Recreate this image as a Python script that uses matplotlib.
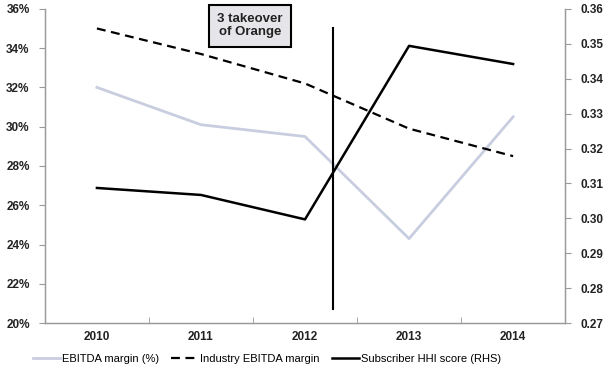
import matplotlib
matplotlib.use('Agg')
import matplotlib.pyplot as plt
from matplotlib.ticker import FuncFormatter

plt.rcParams['font.family'] = ['Liberation Sans', 'DejaVu Sans']

years = ['2010', '2011', '2012', '2013', '2014']
ebitda = [32.0, 30.1, 29.5, 24.3, 30.5]
industry = [35.0, 33.7, 32.2, 29.9, 28.5]
hhi = [0.3087, 0.3067, 0.2997, 0.3494, 0.3442]

x = range(len(years))
axis_col = '#9a9a9a'
txt_col = '#222222'

fig = plt.figure(figsize=(6.07, 3.68), dpi=100)
ax = fig.add_axes([0.074, 0.122, 0.857, 0.854])
ax2 = ax.twinx()

l1, = ax.plot(x, ebitda, color='#c9cde0', lw=2, label='EBITDA margin (%)')
l2, = ax.plot(x, industry, color='black', lw=1.6, ls=(0, (4, 2.5)), label='Industry EBITDA margin')
l3, = ax2.plot(x, hhi, color='black', lw=1.8, label='Subscriber HHI score (RHS)')

ax.set_xlim(-0.5, 4.5)
ax.set_ylim(20, 36)
ax.set_yticks(range(20, 37, 2))
ax.yaxis.set_major_formatter(FuncFormatter(lambda v, p: '%d%%' % v))
ax2.set_ylim(0.27, 0.36)
ax2.set_yticks([0.27 + 0.01 * i for i in range(10)])
ax2.yaxis.set_major_formatter(FuncFormatter(lambda v, p: '%.2f' % v))

ax.set_xticks(list(x))
ax.set_xticklabels(years)
ax.set_xticks([0.5, 1.5, 2.5, 3.5], minor=True)
ax.tick_params(axis='x', which='major', length=0, pad=6)
ax.tick_params(axis='x', which='minor', length=4, color=axis_col, direction='in')

for a in (ax, ax2):
    a.spines['top'].set_visible(False)
    for s in ('left', 'right', 'bottom'):
        a.spines[s].set_color(axis_col)
        a.spines[s].set_linewidth(0.9)
    a.tick_params(axis='y', length=4, color=axis_col, labelsize=8.5, labelcolor=txt_col)
    a.tick_params(axis='x', labelsize=8.5, labelcolor=txt_col)
ax.tick_params(axis='y', pad=7)
ax2.tick_params(axis='y', pad=7)
for lab in ax.get_xticklabels() + ax.get_yticklabels() + ax2.get_yticklabels():
    lab.set_fontweight('bold')

# takeover marker
ax.plot([2.27, 2.27], [20.7, 35.0], color='black', lw=1.5)
ax.text(1.47, 35.15, '3 takeover\nof Orange', ha='center', va='center', fontsize=9.5,
        fontweight='bold', color=txt_col, linespacing=1.1,
        bbox=dict(boxstyle='square,pad=0.65', fc='#e6e6ea', ec='black', lw=1.5))

fig.legend(handles=[l1, l2, l3], loc='lower center', ncol=3, frameon=False,
           bbox_to_anchor=(0.44, -0.015), fontsize=8, handlelength=2.4,
           columnspacing=1.1, handletextpad=0.2)

fig.savefig('out.png', dpi=100)
